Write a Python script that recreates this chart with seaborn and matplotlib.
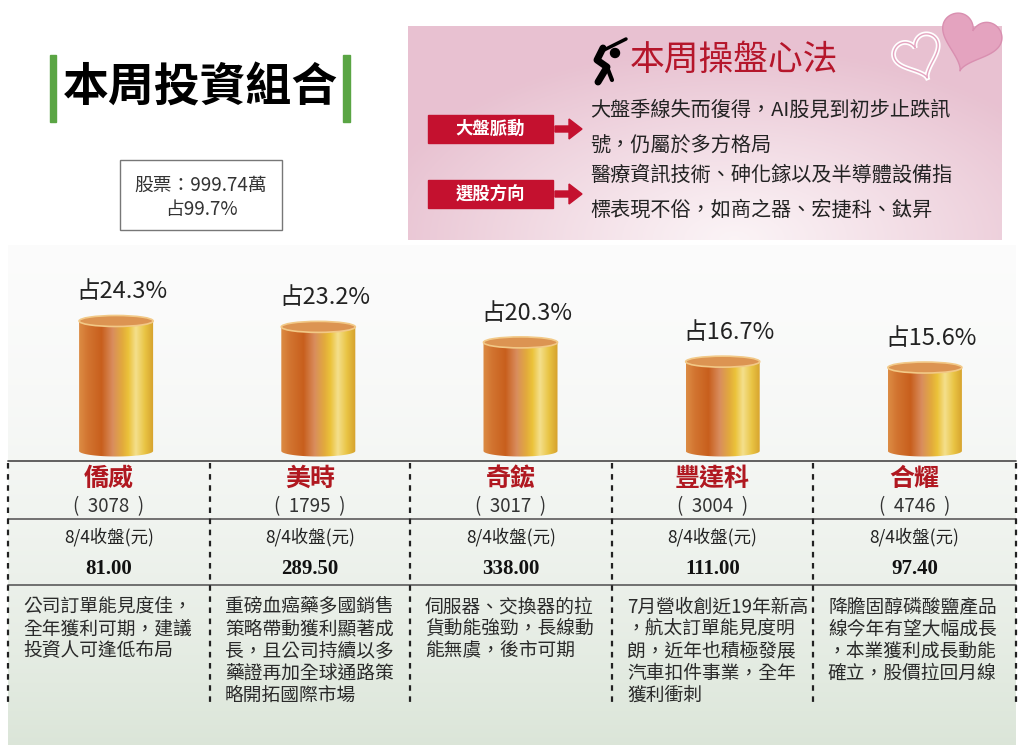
import numpy as np
import pandas as pd
import matplotlib
matplotlib.use('Agg')
import matplotlib.pyplot as plt
from matplotlib.patches import Rectangle, Ellipse, PathPatch, FancyArrow, Polygon, Circle
from matplotlib.path import Path
from matplotlib.colors import LinearSegmentedColormap
import seaborn as sns

# data
names = ['僑威', '美時', '奇鋐', '豐達科', '合耀']
codes = ['3078', '1795', '3017', '3004', '4746']
shares = [24.3, 23.2, 20.3, 16.7, 15.6]
prices = [81.00, 289.50, 338.00, 111.00, 97.40]
close_label = '8/4收盤(元)'
notes = [
    ['公司訂單能見度佳，', '全年獲利可期，建議', '投資人可逢低布局'],
    ['重磅血癌藥多國銷售', '策略帶動獲利顯著成', '長，且公司持續以多', '藥證再加全球通路策', '略開拓國際市場'],
    ['伺服器、交換器的拉', '貨動能強勁，長線動', '能無虞，後市可期'],
    ['7月營收創近19年新高', '，航太訂單能見度明', '朗，近年也積極發展', '汽車扣件事業，全年', '獲利衝刺'],
    ['降膽固醇磷酸鹽產品', '線今年有望大幅成長', '，本業獲利成長動能', '確立，股價拉回月線'],
]
title = '本周投資組合'
stock_total = '股票：999.74萬'
stock_share = '占99.7%'
panel_title = '本周操盤心法'
tags = ['大盤脈動', '選股方向']
tag_lines = [
    ['大盤季線失而復得，AI股見到初步止跌訊', '號，仍屬於多方格局'],
    ['醫療資訊技術、砷化鎵以及半導體設備指', '標表現不俗，如商之器、宏捷科、鈦昇'],
]

sns.set_theme(style='white')
plt.rcParams['font.family'] = ['Noto Sans CJK TC', 'DejaVu Sans']

W, H = 1024, 751
fig = plt.figure(figsize=(W / 100, H / 100), dpi=100, facecolor='white')
bg = fig.add_axes([0, 0, 1, 1])
bg.axis('off')

# lower panel background gradient
t = np.linspace(0, 1, 200) ** 1.8
top_c = np.array([0.985, 0.985, 0.985])
bot_c = np.array([0.86, 0.9, 0.85])
grad = top_c * (1 - t[:, None]) + bot_c * t[:, None]
bg.imshow(grad[:, None, :], extent=(8, 1016, 745, 245), aspect='auto', zorder=0)

# pink panel
X, Y = np.meshgrid(np.linspace(0, 1, 300), np.linspace(0, 1, 110))
d = np.sqrt(((X - 0.55) / 0.62) ** 2 + ((Y - 1.0) / 0.9) ** 2)
wgt = np.clip(d, 0, 1) ** 1.1
light = np.array([0.985, 0.955, 0.965])
pink = np.array([0.91, 0.76, 0.82])
img = light * (1 - wgt[..., None]) + pink * wgt[..., None]
bg.imshow(img, extent=(408, 1002, 240, 26), aspect='auto', zorder=1)


def heart(cx, cy, s, ang):
    tt = np.linspace(0, 2 * np.pi, 200)
    hx = 16 * np.sin(tt) ** 3
    hy = 13 * np.cos(tt) - 5 * np.cos(2 * tt) - 2 * np.cos(3 * tt) - np.cos(4 * tt)
    a = np.radians(ang)
    rx = hx * np.cos(a) - hy * np.sin(a)
    ry = hx * np.sin(a) + hy * np.cos(a)
    return np.column_stack([cx + s * rx, cy - s * ry])


bg.add_patch(Polygon(heart(970, 40, 1.9, -18), closed=True, fc='#e4a3bf', ec='#d98fb0', lw=1, zorder=3))
bg.add_patch(Polygon(heart(918, 55, 1.45, 22), closed=True, fc='none', ec='white', lw=3.5, zorder=4))
bg.add_patch(Polygon(heart(918, 55, 1.45, 22), closed=True, fc='none', ec='#e4a3bf', lw=1, zorder=4))

# golfer icon
bg.plot([604, 626], [50, 39], color='black', lw=2.5, zorder=5, solid_capstyle='round')
bg.add_patch(Circle((615, 53), 4.5, color='black', zorder=5))
bg.plot([603, 597, 607, 598], [48, 60, 67, 82], color='black', lw=5, zorder=5, solid_capstyle='round')
bg.plot([607, 612], [67, 80], color='black', lw=3, zorder=5)

bg.text(734, 60, panel_title, fontsize=25, color='#b5162b', ha='center', va='center', zorder=5)

for i, (tag, lines) in enumerate(zip(tags, tag_lines)):
    yc = 129 + i * 65
    bg.add_patch(Rectangle((428, yc - 14), 125, 28, color='#c4112f', zorder=5))
    bg.text(490, yc, tag, fontsize=12.5, fontweight='bold', color='white', ha='center', va='center', zorder=6)
    bg.add_patch(FancyArrow(555, yc, 27, 0, width=6, head_width=20, head_length=13,
                            length_includes_head=True, color='#c4112f', zorder=5))
    for j, line in enumerate(lines):
        bg.text(590, yc - 19 + j * 35, line, fontsize=14.5, color='#222222', ha='left', va='center', zorder=6)

# main title
bg.add_patch(Rectangle((50, 55), 6, 67, color='#5aa544', zorder=3))
bg.add_patch(Rectangle((343, 55), 7, 67, color='#5aa544', zorder=3))
bg.text(200, 89, title, fontsize=33, fontweight='bold', color='black', ha='center', va='center', zorder=4)

# stock box
bg.add_patch(Rectangle((120, 160), 162, 70, fc='white', ec='#777777', lw=1, zorder=3))
bg.text(201, 185, stock_total, fontsize=13.5, color='#333333', ha='center', va='center', zorder=4)
bg.text(201, 210, stock_share, fontsize=13.5, color='#333333', ha='center', va='center', zorder=4)

# table
edges = [8, 210, 410, 612, 813, 1016]
for yy, c in [(461, '#555555'), (519, '#666666'), (585, '#666666')]:
    bg.plot([8, 1016], [yy, yy], color=c, lw=1.3, zorder=3)
for x in edges:
    bg.plot([x, x], [463, 705], color='#222222', lw=1.6, ls=(0, (2.5, 2.5)), zorder=3)
for i in range(len(names)):
    cx = (edges[i] + edges[i + 1]) / 2
    bg.text(cx, 479, names[i], fontsize=18, fontweight='bold', color='#b01820', ha='center', va='center', zorder=4)
    bg.text(cx, 507, f'(  {codes[i]}  )', fontsize=13.5, color='#333333', ha='center', va='center', zorder=4)
    bg.text(cx, 537, close_label, fontsize=12.5, color='#222222', ha='center', va='center', zorder=4)
    bg.text(cx, 569, f'{prices[i]:.2f}', fontsize=15, fontweight='bold', family='Liberation Serif',
            color='#111111', ha='center', va='center', zorder=4)
    for j, line in enumerate(notes[i]):
        bg.text(edges[i] + 15, 607 + j * 22, line, fontsize=13.5, color='#2a2a2a', ha='left', va='center', zorder=4)

bg.set_xlim(0, W)
bg.set_ylim(H, 0)

# cylinder bars
ppu = 5.35          # pixels per percent
base_px = 451
ylo, yhi = -2.0, 36.0
ax = fig.add_axes([15 / W, (H - (base_px - ylo * ppu)) / H, 1011 / W, (yhi - ylo) * ppu / H])
ax.set_facecolor('none')
df = pd.DataFrame({'name': names, 'share': shares})
sns.barplot(data=df, x='name', y='share', ax=ax, width=0.366, color='#d98a3a',
            saturation=1, errorbar=None)

cyl = LinearSegmentedColormap.from_list('cyl', [
    (0.0, '#dc8c44'), (0.12, '#d27430'), (0.3, '#c85f1d'), (0.45, '#d98d5e'),
    (0.58, '#e2aa3c'), (0.66, '#ebc23a'), (0.76, '#f4df8c'), (0.88, '#e9c444'), (1.0, '#d5a02c')])
cyl_img = cyl(np.linspace(0, 1, 256))[None, :, :]
eh = 11 / ppu

for p, v in zip(ax.patches, shares):
    x0, w, h = p.get_x(), p.get_width(), p.get_height()
    cx = x0 + w / 2
    p.set_alpha(0)
    th = np.linspace(np.pi, 2 * np.pi, 40)
    arc = np.column_stack([cx + w / 2 * np.cos(th), eh / 2 * np.sin(th)])
    verts = np.vstack([[x0, h], arc, [x0 + w, h], [x0, h]])
    clip = PathPatch(Path(verts, closed=True), fc='none', ec='none', transform=ax.transData)
    ax.add_patch(clip)
    im = ax.imshow(cyl_img, extent=(x0, x0 + w, -eh, h), aspect='auto', zorder=3)
    im.set_clip_path(clip)
    ax.add_patch(Ellipse((cx, h), w, eh, fc='#dc9452', ec='#f2c987', lw=1.2, zorder=4))
    ax.text(cx + 0.03, h + 29 / ppu, f'占{v}%', fontsize=17, color='#222222', ha='center', va='center')

ax.set_xlim(-0.5, 4.5)
ax.set_ylim(ylo, yhi)
ax.axis('off')

fig.savefig('out.png', dpi=100, facecolor='white')
